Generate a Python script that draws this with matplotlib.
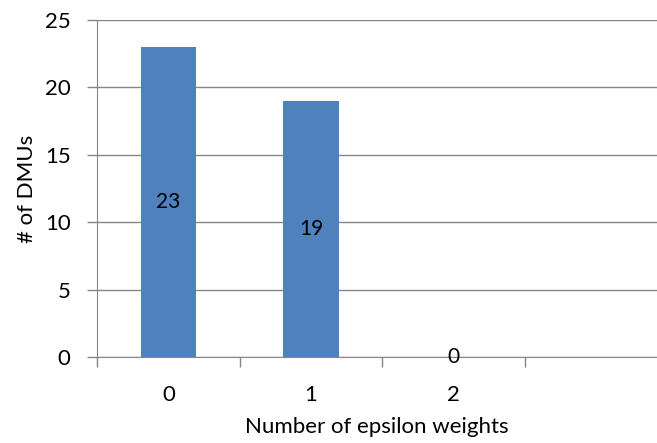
import matplotlib.pyplot as plt
import numpy as np

categories = ['0', '1', '2']
counts = [23, 19, 0]
y_ticks = [0, 5, 10, 15, 20, 25]

plt.rcParams['font.family'] = ['Lato', 'DejaVu Sans']

fig = plt.figure(figsize=(6.57, 4.43), dpi=100)
ax = fig.add_axes([97 / 657, 86 / 443, 560 / 657, 337 / 443])

x = np.arange(len(categories))
bars = ax.bar(x, counts, width=0.39, color='#4F81BD', zorder=3)

for xi, v in zip(x, counts):
    ax.text(xi, v / 2, str(v), ha='center', va='center', fontsize=15, color='black', zorder=4)

grey = '#868686'
ax.set_ylim(0, 25)
ax.set_xlim(-0.5, -0.5 + 560 / 142.7)
ax.set_yticks(y_ticks)
ax.set_yticklabels([str(t) for t in y_ticks], fontsize=16)
ax.yaxis.grid(True, color=grey, linewidth=1, zorder=0)

# category boundaries carry the tick marks, labels sit in the middle
ax.set_xticks([-0.5, 0.5, 1.5, 2.5])
ax.set_xticklabels([])
ax.set_xticks(x, minor=True)
ax.set_xticklabels(categories, minor=True, fontsize=16)
ax.tick_params(axis='x', which='minor', length=0, pad=20)
ax.tick_params(axis='x', which='major', length=7, color=grey, width=1)
ax.tick_params(axis='y', length=7, color=grey, width=1, pad=12)

for side in ['top', 'right']:
    ax.spines[side].set_visible(False)
ax.spines['left'].set_color(grey)
ax.spines['bottom'].set_color(grey)

ax.set_xlabel('Number of epsilon weights', fontsize=16, labelpad=9)
ax.set_ylabel('# of DMUs', fontsize=16, labelpad=6)

fig.savefig('out.png', dpi=100)
